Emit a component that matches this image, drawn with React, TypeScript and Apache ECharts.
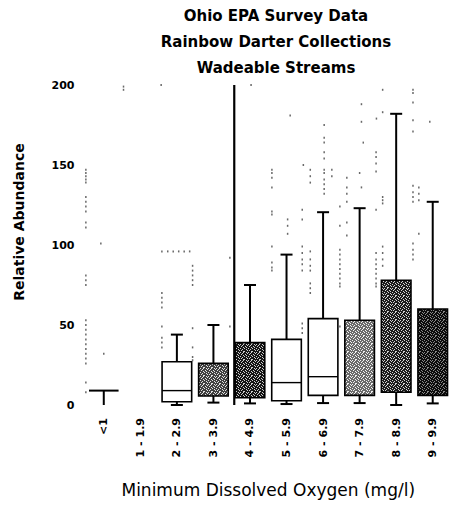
import React, { useEffect, useRef } from "react";
import * as echarts from "echarts";

const titleLines = ["Ohio EPA Survey Data", "Rainbow Darter Collections", "Wadeable Streams"];
const yAxisTitle = "Relative Abundance";
const xAxisTitle = "Minimum Dissolved Oxygen (mg/l)";

const categories = ["<1", "1 - 1.9", "2 - 2.9", "3 - 3.9", "4 - 4.9", "5 - 5.9", "6 - 6.9", "7 - 7.9", "8 - 8.9", "9 - 9.9"];
const whiskerLow = [0, null, 0, 1.5, 1, 0.6, 1.2, 1.2, 0, 1];
const quartile1 = [0, null, 2, 5.6, 4.5, 2.7, 6, 6, 8, 6];
const medians = [0, null, 9, 13, 14, 14, 17.7, 17.5, 30, 27];
const quartile3 = [0, null, 27, 26, 39, 41, 54, 53, 78, 60];
const whiskerHigh = [9, null, 44, 50, 75, 94, 120.5, 123, 182, 127];
// fill tone of each box: [base grey, speckle grey] (white boxes have no speckle)
const boxTones: [string, string | null][] = [
  ["#ffffff", null], ["#ffffff", null], ["#ffffff", null],
  ["#404040", "#e2e2e2"], ["#151515", "#cfcfcf"], ["#ffffff", null], ["#ffffff", null],
  ["#6a6a6a", "#f2f2f2"], ["#1c1c1c", "#d5d5d5"], ["#0c0c0c", "#8a8a8a"],
];

// long vertical trace next to the 4 - 4.9 group (category position, value)
const tallTrace = [[3.57, 0], [3.57, 200]];

// individual observations outside the whiskers: [category position, value]
const outliers: [number, number][] = [
  [-0.49, 147], [-0.49, 145], [-0.49, 143], [-0.49, 141], [-0.49, 139], [-0.49, 130], [-0.49, 127], [-0.49, 124], [-0.49, 121],
  [-0.49, 114], [-0.49, 111], [-0.49, 81], [-0.49, 78], [-0.49, 75], [-0.49, 53], [-0.49, 50], [-0.49, 47], [-0.49, 44],
  [-0.49, 41], [-0.49, 38], [-0.49, 35], [-0.49, 32], [-0.49, 29], [-0.49, 26], [-0.49, 14], [-0.49, 8],
  [-0.08, 101], [0, 32], [0.54, 199], [0.54, 197], [1.57, 200],
  [1.59, 96], [1.75, 96], [1.9, 96], [2.05, 96], [2.2, 96], [2.35, 96],
  [2.43, 87], [2.43, 84], [2.43, 81], [2.43, 78], [2.43, 75], [2.43, 48], [2.43, 36], [2.43, 30], [2.43, 28],
  [1.59, 70], [1.59, 67], [1.59, 64], [1.59, 61], [1.59, 49], [1.59, 42], [1.59, 39], [1.59, 36],
  [3.45, 92], [3.45, 49],
  [4.03, 200], [4.6, 147], [4.6, 145], [4.6, 142], [4.6, 136], [4.6, 121], [4.6, 119], [4.6, 99], [4.6, 89], [4.6, 86], [4.6, 84],
  [5.1, 181], [5.03, 116], [5.03, 112], [5.03, 107], [5.46, 150], [5.65, 147], [5.65, 143], [5.65, 139],
  [5.43, 122], [5.43, 116], [5.43, 99], [5.43, 95], [5.43, 91], [5.43, 88], [5.43, 84],
  [5.65, 96], [5.65, 91], [5.65, 87], [5.65, 84], [5.65, 76], [5.65, 73], [5.65, 70], [5.43, 51], [5.43, 48], [5.43, 45],
  [6.03, 175], [6.03, 167], [6.03, 164], [6.03, 158], [6.03, 154], [6.03, 147], [6.03, 145], [6.03, 141], [6.03, 138],
  [6.03, 135], [6.03, 132], [6.24, 147], [6.24, 143], [6.65, 142], [6.65, 136], [6.65, 132], [6.65, 127], [6.46, 124],
  [6.65, 114], [6.46, 112], [6.65, 106], [6.46, 97], [6.46, 94], [6.46, 91], [6.46, 88], [6.46, 85], [6.46, 82],
  [6.46, 79], [6.46, 76], [6.46, 74], [6.46, 49],
  [7.05, 188], [7.05, 177], [7.1, 164], [7.46, 179], [7.45, 158], [7.45, 155], [7.45, 151], [7.45, 146], [7.0, 145],
  [7.05, 136], [7.63, 130], [7.63, 128], [7.63, 126], [7.45, 122], [7.63, 99], [7.63, 95], [7.63, 91],
  [7.45, 95], [7.45, 91], [7.45, 88], [7.45, 85], [7.45, 82], [7.45, 79], [7.45, 76], [7.45, 74], [7.63, 87],
  [7.63, 197], [7.63, 183], [8.46, 197], [8.46, 195], [8.46, 189], [8.46, 178], [8.46, 171],
  [8.46, 137], [8.46, 133], [8.46, 130], [8.46, 127], [8.62, 136], [8.62, 132], [8.62, 128], [8.62, 107],
  [8.46, 101], [8.46, 97], [8.46, 94], [8.46, 91], [8.92, 177],
];

const FONT = "DejaVu Sans";

// fixed 8x8 speckle mask used for the stippled box texture
const SPECKLE = [
  "10010010",
  "00100001",
  "01000100",
  "00010010",
  "10001000",
  "00100010",
  "01000001",
  "00011000",
];

function stipple(base: string, speck: string | null): any {
  if (!speck) return base;
  const c = document.createElement("canvas");
  c.width = 8;
  c.height = 8;
  const ctx = c.getContext("2d");
  if (!ctx) return base;
  ctx.fillStyle = base;
  ctx.fillRect(0, 0, 8, 8);
  ctx.fillStyle = speck;
  SPECKLE.forEach((row, y) => {
    row.split("").forEach((ch, x) => {
      if (ch === "1") ctx.fillRect(x, y, 1, 1);
    });
  });
  return { image: c.toDataURL(), repeat: "repeat" };
}

export default function App() {
  const ref = useRef<HTMLDivElement>(null);

  useEffect(() => {
    if (!ref.current) return;
    const chart = echarts.init(ref.current, undefined, { renderer: "svg" });

    const fills = boxTones.map(([b, s]) => stipple(b, s));

    const boxData = categories
      .map((_, i) => [i, whiskerLow[i], quartile1[i], medians[i], quartile3[i], whiskerHigh[i]])
      .filter((d) => d[1] !== null);

    const option: any = {
      animation: false,
      backgroundColor: "#ffffff",
      title: {
        text: titleLines.join("\n"),
        left: 271,
        top: -2,
        textAlign: "center",
        textStyle: { fontFamily: FONT, fontSize: 15, fontWeight: "bold", color: "#000", lineHeight: 26 },
      },
      grid: { left: 85.5, right: -4.5, top: 85, bottom: 100, containLabel: false },
      xAxis: [
        {
          type: "category",
          data: categories,
          axisLine: { show: false },
          axisTick: { show: false },
          splitLine: { show: false },
          axisLabel: { rotate: 90, margin: 13, fontFamily: FONT, fontSize: 11, fontWeight: "bold", color: "#000", interval: 0 },
          name: xAxisTitle,
          nameLocation: "middle",
          nameGap: 76,
          nameTextStyle: { fontFamily: FONT, fontSize: 17, color: "#000" },
        },
        { type: "value", min: -0.5, max: 9.5, show: false },
      ],
      yAxis: {
        type: "value",
        min: 0,
        max: 200,
        interval: 50,
        axisLine: { show: false },
        axisTick: { show: false },
        splitLine: { show: false },
        axisLabel: { margin: 11, fontFamily: FONT, fontSize: 11, fontWeight: "bold", color: "#000" },
      },
      graphic: [
        {
          type: "text",
          x: 19,
          y: 222,
          rotation: Math.PI / 2,
          style: { text: yAxisTitle, fontFamily: FONT, fontSize: 14, fontWeight: "bold", fill: "#000", textAlign: "center", textVerticalAlign: "middle" },
        },
      ],
      series: [
        {
          type: "scatter",
          xAxisIndex: 1,
          data: outliers,
          symbol: "rect",
          symbolSize: [1.5, 2],
          itemStyle: { color: "#444" },
          silent: true,
        },
        {
          type: "line",
          xAxisIndex: 1,
          data: tallTrace,
          symbol: "none",
          lineStyle: { color: "#000", width: 2.2 },
          silent: true,
        },
        {
          type: "custom",
          xAxisIndex: 0,
          data: boxData,
          encode: { x: 0, y: [1, 2, 3, 4, 5] },
          renderItem: (params: any, api: any) => {
            const idx = api.value(0);
            const lo = api.coord([idx, api.value(1)]);
            const b1 = api.coord([idx, api.value(2)]);
            const md = api.coord([idx, api.value(3)]);
            const b3 = api.coord([idx, api.value(4)]);
            const hi = api.coord([idx, api.value(5)]);
            const band = api.size([1, 0])[0];
            const bw = band * 0.81;
            const cx = lo[0];
            const flat = Math.abs(b3[1] - b1[1]) < 0.5;
            const cap = flat ? bw : 12;
            const dark = boxTones[idx][1] !== null;
            const children: any[] = [
              { type: "line", shape: { x1: cx, y1: hi[1], x2: cx, y2: b3[1] }, style: { stroke: "#000", lineWidth: 2 } },
              { type: "line", shape: { x1: cx, y1: b1[1], x2: cx, y2: lo[1] }, style: { stroke: "#000", lineWidth: 2 } },
              { type: "line", shape: { x1: cx - cap / 2, y1: hi[1], x2: cx + cap / 2, y2: hi[1] }, style: { stroke: "#000", lineWidth: 2 } },
            ];
            if (!flat) {
              children.push(
                { type: "line", shape: { x1: cx - 6, y1: lo[1], x2: cx + 6, y2: lo[1] }, style: { stroke: "#000", lineWidth: 2 } },
                { type: "rect", shape: { x: cx - bw / 2, y: b3[1], width: bw, height: b1[1] - b3[1] }, style: { fill: fills[idx], stroke: "#000", lineWidth: 1.6 } }
              );
              if (!dark) {
                children.push({ type: "line", shape: { x1: cx - bw / 2, y1: md[1], x2: cx + bw / 2, y2: md[1] }, style: { stroke: "#000", lineWidth: 1.4 } });
              }
            }
            return { type: "group", children };
          },
        },
      ],
    };

    chart.setOption(option);
    return () => chart.dispose();
  }, []);

  return <div ref={ref} style={{ position: "fixed", left: 0, top: 0, width: 451, height: 505 }} />;
}
